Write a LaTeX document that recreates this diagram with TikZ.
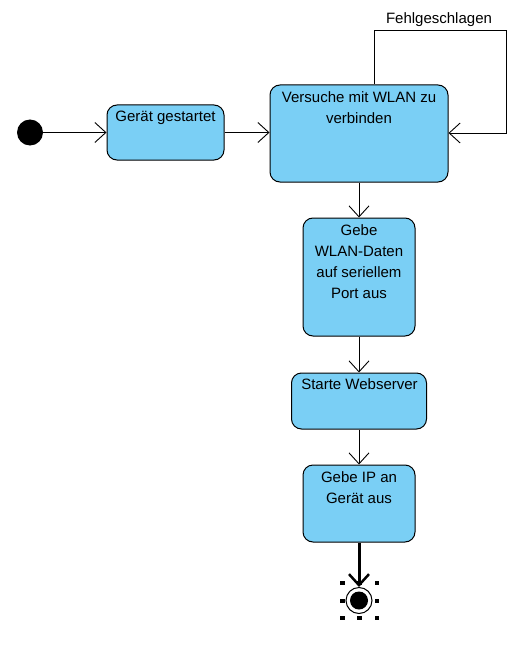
\documentclass[tikz,border=0pt]{standalone}
\usepackage{fontspec}
\setmainfont{Liberation Sans}
\usetikzlibrary{arrows.meta}
\definecolor{statefill}{RGB}{122,207,245}
\begin{document}
\begin{tikzpicture}[x=1pt,y=-1pt,
  statebox/.style={draw=black, line width=1pt, fill=statefill, rounded corners=10pt, inner sep=0pt},
  statetext/.style={anchor=north, inner sep=0pt, align=center, font=\fontsize{15}{21}\selectfont},
  flow/.style={line width=0.9pt, -{Straight Barb[length=11pt,width=20pt,line width=0.9pt]}},
  finalflow/.style={line width=3pt, -{Straight Barb[length=11pt,width=20pt,line width=2.5pt]}},
  handle/.style={fill=black, inner sep=0pt, minimum size=4.5pt}
]
\useasboundingbox (0,0) rectangle (524,666);

% initial state
\node[circle, fill=black, minimum size=26pt, inner sep=0pt] (init) at (30,132.5) {};

% states
\node[statebox, minimum width=117pt, minimum height=55pt] (s1) at (165.5,132.5) {};
\node[statetext] (t1) at (165.5,110.5) {Gerät gestartet};

\node[statebox, minimum width=178pt, minimum height=97pt] (s2) at (359,133.5) {};
\node[statetext] (t2) at (359,91) {Versuche mit WLAN zu\\verbinden};

\node[statebox, minimum width=112pt, minimum height=118pt] (s3) at (359,277) {};
\node[statetext] (t3) at (359,224) {Gebe\\WLAN-Daten\\auf seriellem\\Port aus};

\node[statebox, minimum width=135pt, minimum height=56pt] (s4) at (359,401) {};
\node[statetext] (t4) at (359.5,378) {Starte Webserver};

\node[statebox, minimum width=112pt, minimum height=77pt] (s5) at (359,503.5) {};
\node[statetext] (t5) at (359,471) {Gebe IP an\\Gerät aus};

% final state
\node[circle, draw=black, line width=1pt, fill=white, minimum size=26pt, inner sep=0pt] (fin) at (359,600.5) {};
\node[circle, fill=black, minimum size=18pt, inner sep=0pt] (finin) at (fin.center) {};
\foreach \hx/\hy [count=\i] in {342.5/583,359.5/583,377/583,342.5/601,377/601,342.5/618,359.5/618,377/618}
  \node[handle] (h\i) at (\hx,\hy) {};

% transitions
\draw[flow] (init.east) -- (s1.west);
\draw[flow] (s1.east) -- (s1.east -| s2.west);
\coordinate (l1) at (374,30);
\coordinate (l2) at (506,30);
\coordinate (l3) at (506,133);
\draw[flow] (s2.north -| l1) -- (l1) -- (l2) -- (l3) -- (s2.east |- l3);
\node[font=\fontsize{15}{18}\selectfont, inner sep=0pt] (fail) at (439,19.5) {Fehlgeschlagen};
\draw[flow] (s2.south) -- (s3.north);
\draw[flow] (s3.south) -- (s4.north);
\draw[flow] (s4.south) -- (s5.north);
\draw[finalflow] (s5.south) -- (fin.north);
\end{tikzpicture}
\end{document}
